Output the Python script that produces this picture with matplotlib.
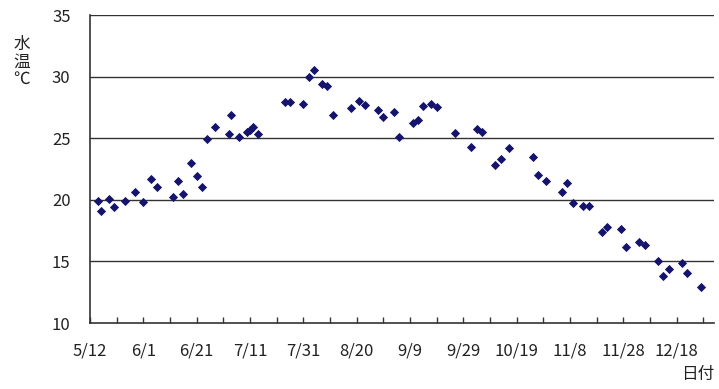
import pandas as pd
import matplotlib
matplotlib.use("Agg")
import matplotlib.pyplot as plt

plt.rcParams['font.family'] = ['Noto Sans CJK JP', 'DejaVu Sans']

# -------------------------------
# data
# -------------------------------
start_date = "2005/5/12"
dates = ["5/15", "5/16", "5/19", "5/21", "5/25", "5/29", "6/1", "6/4", "6/6", "6/12",
         "6/14", "6/16", "6/19", "6/21", "6/23", "6/25", "6/28", "7/3", "7/4", "7/7",
         "7/10", "7/11", "7/12", "7/14", "7/24", "7/26", "7/31", "8/2", "8/4", "8/7",
         "8/9", "8/11", "8/18", "8/21", "8/23", "8/28", "8/30", "9/3", "9/5", "9/10",
         "9/12", "9/14", "9/17", "9/19", "9/26", "10/2", "10/4", "10/6", "10/11", "10/13",
         "10/16", "10/25", "10/27", "10/30", "11/5", "11/7", "11/9", "11/13", "11/15", "11/20",
         "11/22", "11/27", "11/29", "12/4", "12/6", "12/11", "12/13", "12/15", "12/20", "12/22",
         "12/27"]
temps = [19.9, 19.1, 20.1, 19.45, 19.9, 20.6, 19.8, 21.7, 21.0, 20.2,
         21.5, 20.5, 22.95, 21.9, 21.0, 24.9, 25.9, 25.35, 26.9, 25.1,
         25.5, 25.7, 25.9, 25.35, 27.9, 27.9, 27.8, 29.95, 30.5, 29.4,
         29.25, 26.9, 27.45, 28.05, 27.7, 27.3, 26.75, 27.15, 25.1, 26.25,
         26.5, 27.6, 27.75, 27.5, 25.4, 24.25, 25.75, 25.5, 22.8, 23.3,
         24.2, 23.5, 22.05, 21.55, 20.6, 21.4, 19.7, 19.5, 19.5, 17.35,
         17.8, 17.6, 16.2, 16.6, 16.35, 15.05, 13.85, 14.4, 14.85, 14.05,
         12.95]
tick_labels = ["5/12", "6/1", "6/21", "7/11", "7/31", "8/20", "9/9", "9/29",
               "10/19", "11/8", "11/28", "12/18"]
y_ticks = [10, 15, 20, 25, 30, 35]

t0 = pd.Timestamp(start_date)
days = [(pd.Timestamp("2005/" + d) - t0).days for d in dates]

# -------------------------------
# plot
# -------------------------------
fig = plt.figure(figsize=(7.19, 3.89), dpi=100)
ax = fig.add_axes([90 / 719, 1 - 323 / 389, 624 / 719, 308 / 389])

ax.scatter(days, temps, marker='D', s=22, color='#14146e', zorder=3, linewidths=0)

ax.set_xlim(0, 234)
ax.set_ylim(10, 35)

ax.set_yticks(y_ticks)
ax.set_yticklabels([str(v) for v in y_ticks], fontsize=12, color='#222222')
ax.tick_params(axis='y', length=0, pad=14)
for v in y_ticks[1:]:
    ax.axhline(v, color='#333333', lw=1.0, zorder=1)

ax.set_xticks([i * 20 for i in range(len(tick_labels))])
ax.set_xticklabels(tick_labels, fontsize=12, color='#222222')
ax.set_xticks(range(10, 234, 20), minor=True)
ax.tick_params(axis='x', which='both', direction='in', length=4, width=1, pad=14, color='#333333')

for s in ['top', 'right']:
    ax.spines[s].set_visible(False)
for s in ['left', 'bottom']:
    ax.spines[s].set_color('#333333')
    ax.spines[s].set_linewidth(1.2)

fig.text(22 / 719, 1 - 62 / 389, "水\n温\n℃", fontsize=12, color='#222222',
         ha='center', va='center', linespacing=1.05)
fig.text(714 / 719, 1 - 375 / 389, "日付", fontsize=12, color='#222222',
         ha='right', va='center')

fig.savefig("out.png", dpi=100, facecolor='white')
plt.close()
